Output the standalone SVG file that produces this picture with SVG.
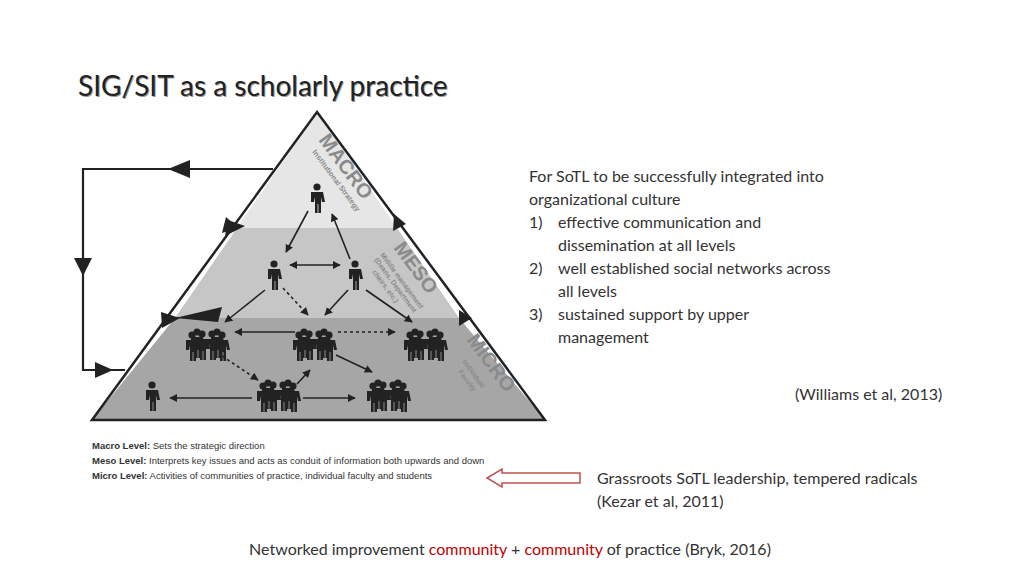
<svg xmlns="http://www.w3.org/2000/svg" width="1024" height="576" viewBox="0 0 1024 576">
<style>
.t{font-family:Lato,"Open Sans",sans-serif;font-size:16px;fill:#333}
.lg{font-family:"Liberation Sans",Arial,sans-serif;font-size:9.5px;fill:#333}
.lv{font-family:"Liberation Sans",Arial,sans-serif;font-weight:bold;fill:#8a8a8a}
.c{stroke:#222;stroke-width:1.6;fill:none}
.d{stroke:#222;stroke-width:1.6;fill:none;stroke-dasharray:3 3}
.b{stroke:#222;stroke-width:2.2;fill:none}
</style>
<defs>
<marker id="a" viewBox="0 0 10 10" refX="9" refY="5" markerWidth="5" markerHeight="5" orient="auto-start-reverse"><path d="M0,0L10,5L0,10z" fill="#222"/></marker>
<g id="p"><circle cx="0" cy="-13" r="3.6" fill="#222"/><path d="M-6,-8h12l2,10h-3l-1,-5v16h-2.6v-9h-0.8v9h-2.6v-16l-1,5h-3z" fill="#222"/></g>
<g id="g"><use href="#p" x="-10" y="0"/><use href="#p" x="10" y="0"/><use href="#p" x="-5" y="2"/><use href="#p" x="5" y="2"/><use href="#p" x="-15" y="3"/><use href="#p" x="15" y="3"/></g>
</defs>
<text x="78" y="96" font-family="Lato,'Open Sans',sans-serif" font-size="28" fill="#555" opacity="0.6" transform="translate(1,1)">SIG/SIT as a scholarly practice</text>
<text x="78" y="96" font-family="Lato,'Open Sans',sans-serif" font-size="28" fill="#222">SIG/SIT as a scholarly practice</text>
<g id="pyramid">
<path d="M317,112L397,228H237z" fill="#e6e6e6"/>
<path d="M237,228H397L459,318H175z" fill="#c6c6c6"/>
<path d="M175,318H459L545,420H92z" fill="#a6a6a6"/>
<path d="M317,112L545,420H92z" fill="none" stroke="#222" stroke-width="2.5"/>
<text class="lv" font-size="20" transform="translate(318,140) rotate(53.5)">MACRO</text>
<text class="lv" font-size="7.5" transform="translate(312,152) rotate(53.5)">Institutional Strategy</text>
<text class="lv" font-size="20" transform="translate(393,248) rotate(53.5)">MESO</text>
<text class="lv" font-size="7" transform="translate(380,255) rotate(53.5)">Middle management</text>
<text class="lv" font-size="7" transform="translate(374,260) rotate(53.5)">(Deans, Department</text>
<text class="lv" font-size="7" transform="translate(372,272) rotate(53.5)">chairs, etc.)</text>
<text class="lv" font-size="20" transform="translate(466,340) rotate(53.5)">MICRO</text>
<text class="lv" font-size="7" transform="translate(462,362) rotate(53.5)">Individual</text>
<text class="lv" font-size="7" transform="translate(458,372) rotate(53.5)">Faculty</text>
</g>
<g id="people">
<use href="#p" x="317" y="200"/>
<use href="#p" x="274" y="277"/><use href="#p" x="355" y="277"/>
<use href="#g" x="207" y="345"/><use href="#g" x="314" y="345"/><use href="#g" x="425" y="345"/>
<use href="#p" x="152" y="398"/><use href="#g" x="278" y="396"/><use href="#g" x="388" y="396"/>
</g>
<g id="connectors">
<path class="b" d="M273,169H83V370H125"/>
<path d="M190,160L168,169L190,178z" fill="#222"/>
<path d="M74,258L83,276L92,258z" fill="#222"/>
<path d="M95,362L113,370L95,378z" fill="#222"/>
<path d="M226,217L238,228L222,233z M222,307L175,318L218,322z" fill="#222"/>
<path d="M228,220L245,226L225,236z" fill="#222"/>
<path d="M161,312L180,318L162,328z" fill="#222"/>
<path d="M394,214L406,224L393,231z" fill="#222"/>
<path d="M459,310L472,318L459,326z" fill="#222"/>
<path class="c" d="M308,211L286,252" marker-end="url(#a)"/>
<path class="c" d="M350,259L332,214" marker-end="url(#a)"/>
<path class="c" d="M290,265H340" marker-start="url(#a)" marker-end="url(#a)"/>
<path class="c" d="M265,290L225,322" marker-end="url(#a)"/>
<path class="d" d="M283,288L308,315" marker-end="url(#a)"/>
<path class="c" d="M348,290L325,315" marker-end="url(#a)"/>
<path class="c" d="M366,290L412,322" marker-end="url(#a)"/>
<path class="c" d="M295,332H235" marker-end="url(#a)"/>
<path class="d" d="M338,332H395" marker-end="url(#a)"/>
<path class="d" d="M222,356L258,380" marker-end="url(#a)"/>
<path class="c" d="M297,384L310,370" marker-end="url(#a)"/>
<path class="c" d="M336,355L372,372" marker-end="url(#a)"/>
<path class="c" d="M252,398H170" marker-end="url(#a)"/>
<path class="c" d="M303,398H355" marker-end="url(#a)"/>
<path d="M580,473H502V469L487,478L502,487V483H580z" fill="#fff" stroke="#c0504d" stroke-width="1.5"/>
</g>
<g id="legend">
<text class="lg" x="92" y="449"><tspan font-weight="bold">Macro Level:</tspan> Sets the strategic direction</text>
<text class="lg" x="92" y="464"><tspan font-weight="bold">Meso Level:</tspan> Interprets key issues and acts as conduit of information both upwards and down</text>
<text class="lg" x="92" y="479"><tspan font-weight="bold">Micro Level:</tspan> Activities of communities of practice, individual faculty and students</text>
</g>
<g id="text">
<text class="t" x="529" y="182">For SoTL to be successfully integrated into</text>
<text class="t" x="529" y="205">organizational culture</text>
<text class="t" x="529" y="228">1)</text><text class="t" x="558" y="228">effective communication and</text>
<text class="t" x="558" y="251">dissemination at all levels</text>
<text class="t" x="529" y="274">2)</text><text class="t" x="558" y="274">well established social networks across</text>
<text class="t" x="558" y="297">all levels</text>
<text class="t" x="529" y="320">3)</text><text class="t" x="558" y="320">sustained support by upper</text>
<text class="t" x="558" y="343">management</text>
<text class="t" x="795" y="400" font-size="10.5">(Williams et al, 2013)</text>
<text class="t" x="597" y="484">Grassroots SoTL leadership, tempered radicals</text>
<text class="t" x="597" y="507">(Kezar et al, 2011)</text>
<text class="t" x="510" y="555" text-anchor="middle" fill="#2e75b6">Networked improvement <tspan fill="#c00000">community</tspan> + <tspan fill="#c00000">community</tspan> of practice (Bryk, 2016)</text>
</g>
</svg>
